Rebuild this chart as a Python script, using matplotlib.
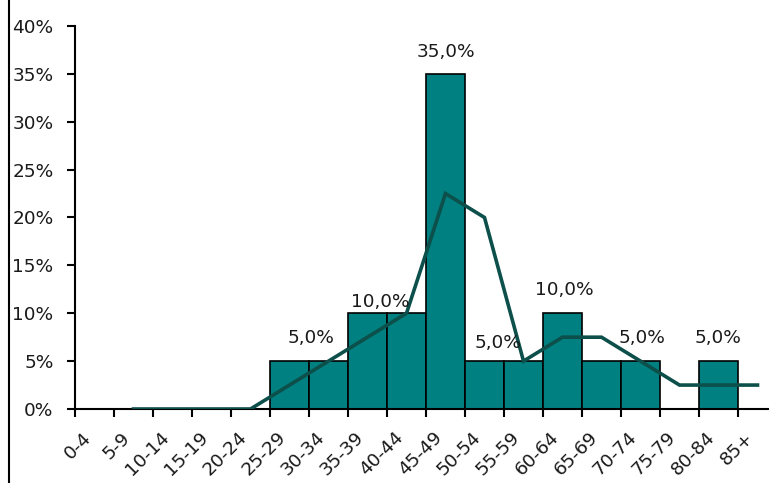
import matplotlib
matplotlib.use("Agg")
import matplotlib.pyplot as plt
from matplotlib.lines import Line2D
from matplotlib.ticker import FixedLocator, FuncFormatter
from matplotlib.transforms import ScaledTranslation

categories = ["0-4", "5-9", "10-14", "15-19", "20-24", "25-29", "30-34", "35-39",
              "40-44", "45-49", "50-54", "55-59", "60-64", "65-69", "70-74",
              "75-79", "80-84", "85+"]
bar_values = [0, 0, 0, 0, 0, 5, 5, 10, 10, 35, 5, 5, 10, 5, 5, 0, 5, 0]
trend_values = [0, 0, 0, 0, 2.5, 5, 7.5, 10, 22.5, 20, 5, 7.5, 7.5, 5, 2.5, 2.5, 2.5]
trend_start = 1
label_indices = [5, 7, 9, 10, 12, 14, 16]
label_texts = ["5,0%", "10,0%", "35,0%", "5,0%", "10,0%", "5,0%", "5,0%"]
# offsets of the labels (pixels) relative to bar centre / bar top
label_dx = [21.5, 12.5, 0, 13.5, 1.5, 1.5, 0]
label_dy = [23, 11, 22, 18, 23, 23, 23]

FS = 13.3
TXT = "#1a1a1a"
plt.rcParams['font.family'] = ['DejaVu Sans']

fig = plt.figure(figsize=(7.69, 4.83), dpi=100)
W, H = 769, 483
ax = fig.add_axes([75 / W, 1 - 409 / H, 702 / W, (409 - 26) / H])

x = list(range(len(categories)))
ax.bar(x, bar_values, width=1.0, color="#008080", edgecolor="black", linewidth=1.2, zorder=2)
tx = list(range(trend_start, trend_start + len(trend_values)))
ax.plot(tx, trend_values, color="#0d4f4a", linewidth=2.6, zorder=3, solid_joinstyle="miter")

for i, t, dx, dy in zip(label_indices, label_texts, label_dx, label_dy):
    ax.annotate(t, (i, bar_values[i]), xytext=(dx * 0.72, dy * 0.72), textcoords="offset points",
                ha="center", va="center", fontsize=FS, color=TXT)

ax.set_xlim(-0.5, len(categories) - 0.5)
ax.set_ylim(0, 40)
ax.set_yticks([0, 5, 10, 15, 20, 25, 30, 35, 40])
ax.yaxis.set_major_formatter(FuncFormatter(lambda v, p: f"{int(v)}%"))

ax.xaxis.set_major_locator(FixedLocator([i - 0.5 for i in range(len(categories) + 1)]))
ax.xaxis.set_major_formatter(FuncFormatter(lambda v, p: ""))
ax.set_xticks(x, minor=True)
ax.set_xticklabels(categories, minor=True, rotation=45, ha="right", va="top",
                   fontsize=FS, color=TXT)
shift = ScaledTranslation(5 / 100, 0, fig.dpi_scale_trans)
for lab in ax.get_xticklabels(minor=True):
    lab.set_transform(lab.get_transform() + shift)
ax.tick_params(axis="x", which="minor", length=0, pad=14)
ax.tick_params(axis="x", which="major", length=5.5, width=1.5, direction="out", color="black")
ax.tick_params(axis="y", length=5.5, width=1.5, direction="out", pad=10, labelsize=FS,
               labelcolor=TXT, color="black")

for s in ["top", "right"]:
    ax.spines[s].set_visible(False)
for s in ["left", "bottom"]:
    ax.spines[s].set_linewidth(1.5)
    ax.spines[s].set_color("black")

fig.add_artist(Line2D([8.5 / W, 8.5 / W], [0, 1], transform=fig.transFigure,
                      color="black", linewidth=1.5))

fig.savefig("out.png", dpi=100)
